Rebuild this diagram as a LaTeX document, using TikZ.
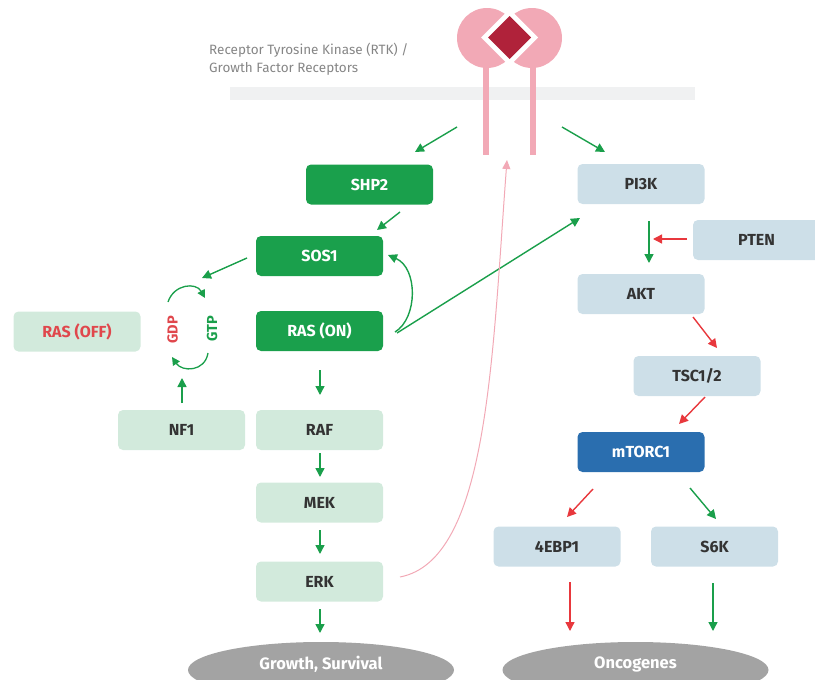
\documentclass[tikz,border=0pt]{standalone}
\usepackage{fontspec}
\setmainfont{Fira Sans}
\usetikzlibrary{arrows.meta,calc,shapes.geometric}
\definecolor{dg}{HTML}{1AA04C}
\definecolor{lg}{HTML}{D2EADC}
\definecolor{lb}{HTML}{CDDFE8}
\definecolor{db}{HTML}{2A6EAF}
\definecolor{ag}{HTML}{1A9F4B}
\definecolor{ar}{HTML}{E8383D}
\definecolor{pk}{HTML}{F2A9B6}
\definecolor{dr}{HTML}{B0223A}
\definecolor{tx}{HTML}{333333}
\definecolor{gy}{HTML}{A3A3A3}
\definecolor{mem}{HTML}{F0F1F2}
\definecolor{rt}{HTML}{868686}
\definecolor{rr}{HTML}{E0474C}
\begin{document}
\begin{tikzpicture}[x=1pt,y=-1pt,
  box/.style={rounded corners=5pt, minimum width=127pt, minimum height=40pt, inner sep=0pt,
    font=\fontsize{16}{18}\selectfont\bfseries},
  dbox/.style={box, fill=dg, text=white},
  gbox/.style={box, fill=lg, text=tx},
  bbox/.style={box, fill=lb, text=tx},
  mbox/.style={box, fill=db, text=white},
  outc/.style={ellipse, fill=gy, minimum width=266pt, minimum height=56pt, inner sep=0pt},
  outt/.style={text=white, font=\fontsize{16.5}{18}\selectfont\bfseries},
  garr/.style={draw=ag, line width=1.4pt, -{Triangle[length=9pt,width=9pt]}},
  rarr/.style={draw=ar, line width=1.4pt, -{Triangle[length=9pt,width=9pt]}},
  parr/.style={draw=pk, line width=1pt, -{Triangle[length=9pt,width=8pt]}},
  cyc/.style={text=#1, rotate=90, font=\fontsize{14.5}{16}\selectfont\bfseries}
]
\useasboundingbox (0,0) rectangle (815,680);
% membrane and receptor
\fill[mem] (230,87) rectangle (695,100);
\fill[pk] (483,62) rectangle (489,155);
\fill[pk] (530,62) rectangle (536,155);
\fill[pk] (487,38) circle (30);
\fill[pk] (532,38) circle (30);
\fill[white] (509.5,9) -- (538,37.5) -- (509.5,66) -- (481,37.5) -- cycle;
\fill[dr] (509.5,16) -- (531,37.5) -- (509.5,59) -- (488,37.5) -- cycle;
\node[anchor=west, align=left, text=rt, font=\fontsize{13.5}{18}\selectfont, inner sep=0pt] (rtktext) at (209,59)
  {Receptor Tyrosine Kinase (RTK) /\\Growth Factor Receptors};
\coordinate (rtkL) at (457,127);
\coordinate (rtkR) at (562,127);
\coordinate (rtkM) at (507,160);

% nodes
\node[dbox] (shp2) at (369.5,184.5) {SHP2};
\node[dbox] (sos1) at (319.5,256) {SOS1};
\node[dbox] (rason) at (319.5,331) {RAS (ON)};
\node[gbox, text=rr] (rasoff) at (77,331.5) {RAS (OFF)};
\node[gbox] (nf1) at (181.5,430) {NF1};
\node[gbox] (raf) at (319.5,430) {RAF};
\node[gbox] (mek) at (319.5,502.5) {MEK};
\node[gbox] (erk) at (319.5,581.5) {ERK};
\node[bbox] (pi3k) at (641,184) {PI3K};
\node[bbox] (pten) at (756.5,240) {PTEN};
\node[bbox] (akt) at (641,294) {AKT};
\node[bbox] (tsc) at (697,376) {TSC1/2};
\node[mbox] (mtor) at (641,452) {mTORC1};
\node[bbox] (ebp) at (557,546.5) {4EBP1};
\node[bbox] (s6k) at (714.5,546.5) {S6K};
\node[outc] (grow) at (321,670) {};
\node[outt] (growt) at (321,664) {Growth, Survival};
\node[outc] (onco) at (635.5,670) {};
\node[outt] (oncot) at (635.5,664) {Oncogenes};
\node[cyc=rr] (gdp) at (172.5,330) {GDP};
\node[cyc=ag] (gtp) at (212,329) {GTP};

% connectors
\draw[garr] (rtkL) -- ($(shp2.center)+(45.5,-32.5)$);
\draw[garr] (rtkR) -- ($(pi3k.center)+(-36,-32)$);
\draw[garr] ($(shp2.center)+(30.5,27.5)$) -- ($(sos1.center)+(57.5,-26)$);
\draw[garr] ($(sos1.center)+(-72.5,2)$) -- ($(gtp.center)+(-10,-51)$);
\draw[draw=ag, line width=1.3pt, -{Triangle[length=8pt,width=8pt]}]
  ($(gdp.center)+(-4.5,-28)$) .. controls (174,284) and (196,282) .. ($(gtp.center)+(-7,-31)$);
\draw[draw=ag, line width=1.3pt, -{Triangle[length=8pt,width=8pt]}]
  ($(gtp.center)+(-4,24)$) .. controls (205,372) and (182,372) .. ($(gdp.center)+(-0.5,27)$);
\draw[garr] ($(nf1.center)+(0.5,-27)$) -- ($(gdp.center)+(9.5,48)$);
\draw[garr] ($(rason.center)+(75.5,1)$) .. controls (418,318) and (418,268) .. ($(sos1.center)+(68.5,-1)$);
\draw[garr] ($(rason.center)+(77.5,2)$) -- ($(pi3k.center)+(-61,34)$);
\draw[garr] ($(rason.center)+(0.5,39)$) -- ($(raf.center)+(0.5,-35)$);
\draw[garr] ($(raf.center)+(0.5,23)$) -- ($(mek.center)+(0.5,-25.5)$);
\draw[garr] ($(mek.center)+(0.5,27.5)$) -- ($(erk.center)+(0.5,-27.5)$);
\draw[garr] ($(erk.center)+(0.5,27.5)$) -- ($(grow.center)+(-1,-37)$);
\draw[parr] ($(erk.center)+(80.5,-4.5)$) .. controls (488,560) and (492,360) .. (rtkM);
\draw[garr] ($(pi3k.center)+(8,37)$) -- ($(akt.center)+(8,-31)$);
\draw[rarr] ($(pten.center)+(-69.5,-1)$) -- ($(akt.center)+(12,-55)$);
\draw[rarr] ($(akt.center)+(52,23)$) -- ($(tsc.center)+(20,-28)$);
\draw[rarr] ($(tsc.center)+(8,21)$) -- ($(mtor.center)+(38,-28)$);
\draw[rarr] ($(mtor.center)+(-48,37)$) -- ($(ebp.center)+(10,-29.5)$);
\draw[garr] ($(mtor.center)+(49,36)$) -- ($(s6k.center)+(1.5,-27.5)$);
\draw[rarr] ($(ebp.center)+(13,35.5)$) -- ($(onco.center)+(-65.5,-39)$);
\draw[garr] ($(s6k.center)+(-1.5,36.5)$) -- ($(onco.center)+(77.5,-39)$);
\end{tikzpicture}
\end{document}
